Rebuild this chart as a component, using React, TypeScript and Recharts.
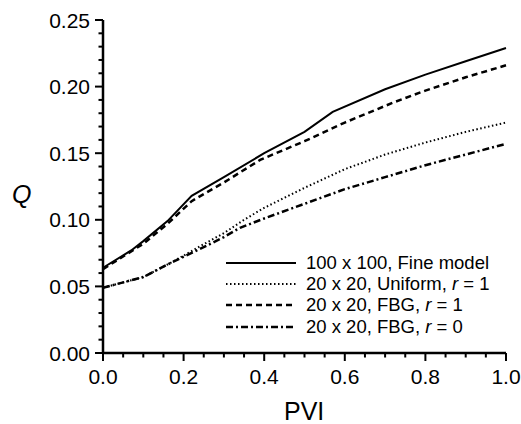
import { LineChart, Line, XAxis, YAxis } from 'recharts';

const fontFamily = '"Liberation Sans", Arial, Helvetica, sans-serif';

// Q vs PVI
const finePvi = [0, 0.07, 0.1, 0.16, 0.22, 0.3, 0.4, 0.5, 0.57, 0.7, 0.8, 0.9, 1.0];
const fineQ = [0.064, 0.077, 0.084, 0.099, 0.118, 0.132, 0.15, 0.166, 0.181, 0.198, 0.209, 0.219, 0.229];

const uniformPvi = [0, 0.1, 0.17, 0.24, 0.3, 0.35, 0.4, 0.5, 0.6, 0.7, 0.8, 0.9, 1.0];
const uniformQ = [0.049, 0.057, 0.068, 0.08, 0.09, 0.1, 0.109, 0.124, 0.138, 0.149, 0.158, 0.166, 0.173];

const fbg1Pvi = [0, 0.1, 0.16, 0.22, 0.3, 0.39, 0.5, 0.6, 0.72, 0.8, 0.9, 1.0];
const fbg1Q = [0.063, 0.082, 0.097, 0.114, 0.128, 0.145, 0.159, 0.173, 0.188, 0.197, 0.207, 0.216];

const fbg0Pvi = [0, 0.1, 0.17, 0.24, 0.3, 0.34, 0.4, 0.5, 0.6, 0.7, 0.8, 0.9, 1.0];
const fbg0Q = [0.049, 0.057, 0.068, 0.078, 0.087, 0.094, 0.101, 0.112, 0.123, 0.132, 0.141, 0.149, 0.157];

const xTicks = [0, 0.05, 0.1, 0.15, 0.2, 0.25, 0.3, 0.35, 0.4, 0.45, 0.5, 0.55, 0.6, 0.65, 0.7, 0.75, 0.8, 0.85, 0.9, 0.95, 1.0];
const xLabels = [0, 0.2, 0.4, 0.6, 0.8, 1.0];
const yTicks = [0, 0.01, 0.02, 0.03, 0.04, 0.05, 0.06, 0.07, 0.08, 0.09, 0.1, 0.11, 0.12, 0.13, 0.14, 0.15, 0.16, 0.17, 0.18, 0.19, 0.2, 0.21, 0.22, 0.23, 0.24, 0.25];
const yLabels = [0, 0.05, 0.1, 0.15, 0.2, 0.25];

const toRows = (xs: number[], ys: number[]) => xs.map((pvi, i) => ({ pvi, q: ys[i] }));

const series = [
  { name: '100 x 100, Fine model', r: '', data: toRows(finePvi, fineQ), dash: undefined, width: 2 },
  { name: '20 x 20, Uniform, ', r: '1', data: toRows(uniformPvi, uniformQ), dash: '1.5 2.5', width: 2 },
  { name: '20 x 20, FBG, ', r: '1', data: toRows(fbg1Pvi, fbg1Q), dash: '6 4', width: 2.5 },
  { name: '20 x 20, FBG, ', r: '0', data: toRows(fbg0Pvi, fbg0Q), dash: '7 3 2 3', width: 2.5 },
];

const isLabel = (v: number, list: number[]) => list.some((l) => Math.abs(l - v) < 1e-6);

const XTick = ({ x, y, payload }: any) => {
  const major = isLabel(payload.value, xLabels);
  return (
    <g>
      <line x1={x} x2={x} y1={y} y2={y + (major ? 8 : 4.5)} stroke="#000" strokeWidth={2} />
      {major && (
        <text x={x} y={y + 31} textAnchor="middle" fontSize={21} fontFamily={fontFamily} fill="#000">
          {payload.value.toFixed(1)}
        </text>
      )}
    </g>
  );
};

const YTick = ({ x, y, payload }: any) => {
  const major = isLabel(payload.value, yLabels);
  return (
    <g>
      <line x1={x - (major ? 8 : 4.5)} x2={x} y1={y} y2={y} stroke="#000" strokeWidth={2} />
      {major && (
        <text x={x - 13} y={y} dy="0.36em" textAnchor="end" fontSize={21} fontFamily={fontFamily} fill="#000">
          {payload.value.toFixed(2)}
        </text>
      )}
    </g>
  );
};

const LegendBox = () => (
  <div style={{ position: 'absolute', left: 226, top: 252, fontFamily, fontSize: 18.5, color: '#000' }}>
    {series.map((s, i) => (
      <div key={i} style={{ display: 'flex', alignItems: 'center', height: 21.3, whiteSpace: 'nowrap' }}>
        <svg width={80} height={10} style={{ display: 'block' }}>
          <line x1={0} x2={70} y1={5} y2={5} stroke="#000" strokeWidth={s.width} strokeDasharray={s.dash} />
        </svg>
        <span>
          {s.name}
          {s.r && (
            <>
              <i>r</i> = {s.r}
            </>
          )}
        </span>
      </div>
    ))}
  </div>
);

export default function App() {
  return (
    <div style={{ position: 'absolute', left: 0, top: 0, width: 521, height: 424, background: '#fff' }}>
      <LineChart width={521} height={424} margin={{ top: 20, right: 15, bottom: 0, left: 0 }}>
        <XAxis
          dataKey="pvi"
          type="number"
          domain={[0, 1]}
          ticks={xTicks}
          interval={0}
          allowDuplicatedCategory={false}
          tickSize={0}
          tickMargin={0}
          tickLine={false}
          tick={<XTick />}
          axisLine={{ stroke: '#000', strokeWidth: 2.5 }}
          height={71}
        />
        <XAxis xAxisId="top" orientation="top" type="number" domain={[0, 1]} tick={false} tickLine={false} height={0} axisLine={{ stroke: '#000', strokeWidth: 2 }} />
        <YAxis
          type="number"
          domain={[0, 0.25]}
          ticks={yTicks}
          interval={0}
          tickSize={0}
          tickMargin={0}
          tickLine={false}
          tick={<YTick />}
          axisLine={{ stroke: '#000', strokeWidth: 2.5 }}
          width={103}
        />
        <YAxis yAxisId="right" orientation="right" type="number" domain={[0, 0.25]} tick={false} tickLine={false} width={0} axisLine={{ stroke: '#000', strokeWidth: 2 }} />
        {series.map((s, i) => (
          <Line
            key={i}
            data={s.data}
            dataKey="q"
            type="linear"
            stroke="#000"
            strokeWidth={s.width}
            strokeDasharray={s.dash}
            dot={false}
            isAnimationActive={false}
            name={s.name + s.r}
          />
        ))}
      </LineChart>
      <LegendBox />
      <div style={{ position: 'absolute', left: 12, top: 180, fontFamily, fontSize: 25, fontStyle: 'italic' }}>Q</div>
      <div style={{ position: 'absolute', left: 284, top: 397, fontFamily, fontSize: 25 }}>PVI</div>
    </div>
  );
}
